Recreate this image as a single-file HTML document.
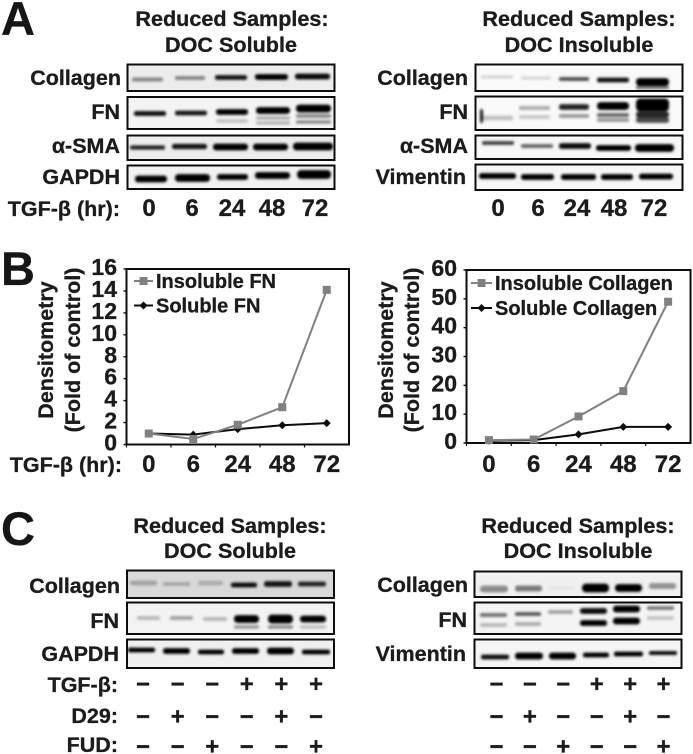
<!DOCTYPE html>
<html lang="en">
<head>
<meta charset="utf-8">
<title>Reduced samples western blots and densitometry</title>
<style>
  html, body { margin: 0; padding: 0; background: #fff; }
  body { width: 693px; height: 754px; overflow: hidden; }
  svg { display: block; }
  text { font-family: "Liberation Sans", "DejaVu Sans", sans-serif; font-weight: bold; fill: #1a1a1a; stroke: #1a1a1a; stroke-width: 0.3px; }
  .panel { font-size: 47px; fill: #141414; }
  .title { font-size: 21.6px; text-anchor: middle; }
  .lab { font-size: 21.5px; text-anchor: end; }
  .num { font-size: 24px; text-anchor: middle; }
  .tick { font-size: 23px; text-anchor: end; }
  .legend { font-size: 20px; }
  .axt { font-size: 21.5px; text-anchor: middle; }
  .sign { font-size: 24px; text-anchor: middle; }
</style>
</head>
<body>
<svg xmlns="http://www.w3.org/2000/svg" width="693" height="754" viewBox="0 0 693 754">
  <defs>
    <filter id="soft" x="-5%" y="-5%" width="110%" height="110%"><feGaussianBlur stdDeviation="0.35"/></filter>
    <filter id="bandBlur" x="-20%" y="-60%" width="140%" height="220%"><feGaussianBlur stdDeviation="1.25"/></filter>
  </defs>
  <g id="root" filter="url(#soft)">

    <text class="panel" x="1" y="35">A</text>
    <text class="panel" x="1" y="285">B</text>
    <text class="panel" x="1" y="545">C</text>

    <text class="title" x="232" y="26">Reduced Samples:</text>
    <text class="title" x="231" y="52">DOC Soluble</text>
    <text class="title" x="579" y="26">Reduced Samples:</text>
    <text class="title" x="579" y="52">DOC Insoluble</text>

    <text class="lab" x="121" y="85">Collagen</text>
    <text class="lab" x="120" y="119">FN</text>
    <text class="lab" x="120" y="153">α-SMA</text>
    <text class="lab" x="120" y="184">GAPDH</text>
    <text class="lab" x="120" y="216">TGF-β (hr):</text>
    <text class="num" x="149" y="216">0</text>
    <text class="num" x="192" y="216">6</text>
    <text class="num" x="232" y="216">24</text>
    <text class="num" x="272" y="216">48</text>
    <text class="num" x="315" y="216">72</text>

    <text class="lab" x="468" y="85">Collagen</text>
    <text class="lab" x="468" y="119">FN</text>
    <text class="lab" x="468" y="153">α-SMA</text>
    <text class="lab" x="466" y="184">Vimentin</text>
    <text class="num" x="498" y="216">0</text>
    <text class="num" x="538" y="216">6</text>
    <text class="num" x="577" y="216">24</text>
    <text class="num" x="614" y="216">48</text>
    <text class="num" x="654" y="216">72</text>

    <text class="axt" transform="translate(53,350) rotate(-90)">Densitometry</text>
    <text class="axt" transform="translate(80,350) rotate(-90)">(Fold of control)</text>
    <text class="lab" x="122" y="472">TGF-β (hr):</text>
    <text class="axt" transform="translate(393,350) rotate(-90)">Densitometry</text>
    <text class="axt" transform="translate(419,350) rotate(-90)">(Fold of control)</text>

    <text class="title" x="230" y="533">Reduced Samples:</text>
    <text class="title" x="230" y="558">DOC Soluble</text>
    <text class="title" x="578" y="533">Reduced Samples:</text>
    <text class="title" x="578" y="558">DOC Insoluble</text>

    <text class="lab" x="120" y="593">Collagen</text>
    <text class="lab" x="119" y="628">FN</text>
    <text class="lab" x="119" y="661">GAPDH</text>
    <text class="lab" x="468" y="592">Collagen</text>
    <text class="lab" x="467" y="627">FN</text>
    <text class="lab" x="466" y="661">Vimentin</text>
    <text class="lab" x="118" y="692">TGF-β:</text>
    <text class="lab" x="118" y="723">D29:</text>
    <text class="lab" x="118" y="752">FUD:</text>

    <g id="blots"></g>
    <g id="signs"></g>
    <g id="chartFn"></g>
    <g id="chartCol"></g>
  </g>
</svg>
<script>
// ---- chart data ----
var timeLabels = ['0', '6', '24', '48', '72'];
var fnTicks = [0, 2, 4, 6, 8, 10, 12, 14, 16];
var insolubleFn = [1, 0.5, 1.8, 3.4, 14.1];
var solubleFn = [1, 0.9, 1.4, 1.75, 1.95];
var collagenTicks = [0, 10, 20, 30, 40, 50, 60];
var insolubleCollagen = [1, 1.2, 9.2, 18, 49];
var solubleCollagen = [0.8, 1, 3, 5.6, 5.6];

// ---- treatment tables ----
var tgfRow = ['-', '-', '-', '+', '+', '+'];
var d29Row = ['-', '+', '-', '-', '+', '-'];
var fudRow = ['-', '-', '+', '-', '-', '+'];

// ---- blot densities: [x0, x1, yCentre, thickness, darkness] ----
var aSolCollagen = [[132,163,79.5,3,.45],[175,205,78,3,.45],[215,247,77.5,4,.92],[255,288,77,5,1],[295,330,76.5,5,.97]];
var aSolFn = [[134,166,113.5,4,.95],[175,207,113,4,.9],[216,248,112,5,1],[256,290,110.5,6,1],[296,331,108.5,7,1],[216,248,121,3,.2],[256,290,118,2,.35],[256,290,123,2,.3],[296,331,116,3,.45],[296,331,122,2.5,.45]];
var aSolSma = [[130,165,147.5,3.5,.85],[172,207,146.5,4.5,.92],[213,248,147,6,1],[253,288,147,6,1],[293,333,146.5,7,1]];
var aSolGapdh = [[135,167,179,6,1],[175,210,178,7,1],[217,248,177,5,1],[255,290,175.5,6,1],[297,331,174.5,8,1]];
var aInsCollagen = [[481,513,77,2,.16],[521,551,78,2,.16],[559,589,79,3,.7],[597,629,80,4,.92],[636,669,82,7,1],[636,669,87.5,3,.5]];
var aInsFn = [[481,513,118,4,.22],[480,483,116,14,.9],[519,550,108,3,.32],[519,550,117,3,.2],[559,589,107,5,.85],[559,589,116,3,.4],[597,629,106,7,1],[597,629,115,3,.6],[597,629,120,3,.4],[636,669,105,12,1],[636,669,114.5,5,.85],[636,669,120,5,.7]];
var aInsSma = [[482,514,143,3,.75],[521,553,146,3,.6],[559,591,146,5,.95],[596,631,148,5,1],[635,674,148,7,1]];
var aInsVimentin = [[479,516,176,5,1],[521,554,177,5,1],[561,596,177,5,1],[601,633,177,5,1],[639,673,176.5,5,1]];
var cSolCollagen = [[130,157,583,4,.25],[163,190,584,3,.25],[198,223,583,4,.2],[231,257,585,4,.95],[264,292,584,5,.9],[298,326,584,4,.85]];
var cSolFn = [[137,160,618,3,.25],[170,193,618,3,.35],[203,227,619,3,.25],[234,259,619,7,1],[268,293,619,8,1],[300,326,619,6,1],[234,259,627,2.5,.4],[268,293,627,2.5,.45],[300,326,627,2,.25]];
var cSolGapdh = [[128,155,650,4,1],[163,190,651,5,1],[198,224,652,4,1],[232,259,651,5,1],[267,294,651,6,1],[302,330,652,4,1]];
var cInsCollagen = [[480,508,589,6,.42],[515,542,588.5,5,.5],[548,575,588,2,.05],[582,609,588,8,1],[615,642,588,7,1],[649,676,586,5,.4]];
var cInsFn = [[480,507,615,3,.55],[480,507,625,3,.25],[515,541,614,3,.65],[515,541,624,3,.3],[548,573,612,3,.35],[580,607,611,5,.95],[580,607,623,5,1],[613,640,609,6,1],[613,640,621,6,1],[647,674,608,3,.5],[647,674,618,3,.2]];
var cInsVimentin = [[481,509,657,4,.95],[515,543,656,6,1],[549,576,656,6,1],[583,609,655,4,1],[614,643,654,4,1],[649,677,653,3,1]];

var NS = 'http://www.w3.org/2000/svg';

function make(tag, parent) {
  var el = document.createElementNS(NS, tag);
  parent.appendChild(el);
  return el;
}

function drawBlot(name, x, y, w, h, bg, bands) {
  var host = document.getElementById('blots');
  var g = make('g', host);
  
  
  var back = make('rect', g);
  
  
  back.setAttribute('x', x);
  back.setAttribute('y', y);
  back.setAttribute('width', w);
  back.setAttribute('height', h);
  back.setAttribute('fill', bg);
  var marks = make('g', g);
  marks.setAttribute('filter', 'url(#bandBlur)');
  bands.forEach(function (b) {
    var r = make('rect', marks);
    
    
    r.setAttribute('x', b[0]);
    r.setAttribute('y', b[2] - b[3] / 2 - 0.4);
    r.setAttribute('width', b[1] - b[0]);
    r.setAttribute('height', b[3] + 0.8);
    r.setAttribute('rx', Math.min(b[3] / 2, 4));
    r.setAttribute('fill', '#000');
    r.setAttribute('opacity', b[4]);
  });
  var frame = make('rect', g);
  
  
  frame.setAttribute('x', x);
  frame.setAttribute('y', y);
  frame.setAttribute('width', w);
  frame.setAttribute('height', h);
  frame.setAttribute('fill', 'none');
  frame.setAttribute('stroke', '#0a0a0a');
  frame.setAttribute('stroke-width', '2');
}

drawBlot('a-soluble-collagen-blot', 127.5, 64.5, 207, 26.5, '#ececec', aSolCollagen);
drawBlot('a-soluble-fn-blot', 127.5, 97, 207, 32, '#f4f4f4', aSolFn);
drawBlot('a-soluble-sma-blot', 127.5, 135.5, 207, 24.5, '#ededed', aSolSma);
drawBlot('a-soluble-gapdh-blot', 127.5, 165.5, 207, 23.5, '#f2f2f2', aSolGapdh);
drawBlot('a-insoluble-collagen-blot', 475.5, 64.5, 207, 26.5, '#f9f9f9', aInsCollagen);
drawBlot('a-insoluble-fn-blot', 475.5, 96.5, 207, 33.5, '#f9f9f9', aInsFn);
drawBlot('a-insoluble-sma-blot', 475.5, 135.5, 207, 23.5, '#f7f7f7', aInsSma);
drawBlot('a-insoluble-vimentin-blot', 475.5, 164.5, 207, 25.5, '#f7f7f7', aInsVimentin);
drawBlot('c-soluble-collagen-blot', 127, 570.5, 207, 27.5, '#d9d9d9', cSolCollagen);
drawBlot('c-soluble-fn-blot', 127, 602.5, 207, 31.5, '#f3f3f3', cSolFn);
drawBlot('c-soluble-gapdh-blot', 127, 639.5, 207, 28.5, '#f0f0f0', cSolGapdh);
drawBlot('c-insoluble-collagen-blot', 474.5, 571.5, 207, 25.5, '#f0f0f0', cInsCollagen);
drawBlot('c-insoluble-fn-blot', 474.5, 602.5, 207, 31.5, '#f4f4f4', cInsFn);
drawBlot('c-insoluble-vimentin-blot', 474.5, 639.5, 207, 28.5, '#f5f5f5', cInsVimentin);

// ---- treatment signs ----
function drawSigns(columnStart, columnStep, rowY, row, rowName) {
  var host = document.getElementById('signs');
  row.forEach(function (s, i) {
    var t = make('text', host);
    
    
    t.setAttribute('class', 'sign');
    t.setAttribute('x', columnStart + i * columnStep);
    t.setAttribute('y', rowY);
    t.textContent = s === '+' ? '+' : '\u2212';
  });
}
[[692, tgfRow, 'tgf'], [724.5, d29Row, 'd29'], [754.5, fudRow, 'fud']].forEach(function (r) {
  drawSigns(143, 34.6, r[0], r[1], 'soluble-' + r[2]);
  drawSigns(496.5, 33.4, r[0], r[1], 'insoluble-' + r[2]);
});

// ---- line charts ----
function drawChart(hostId, box, ticks, categories, seriesA, seriesB, nameA, nameB, legendBox) {
  var host = document.getElementById(hostId);
  var maxY = ticks[ticks.length - 1];
  function yScale(v) { return box.bottom - (v / maxY) * (box.bottom - box.top); }
  function xScale(i) { return box.left + (i + 0.5) * (box.right - box.left) / categories.length; }

  var frame = make('rect', host);
  
  
  frame.setAttribute('x', box.left);
  frame.setAttribute('y', box.top);
  frame.setAttribute('width', box.right - box.left);
  frame.setAttribute('height', box.bottom - box.top);
  frame.setAttribute('fill', 'none');
  frame.setAttribute('stroke', '#111');
  frame.setAttribute('stroke-width', '2');

  ticks.forEach(function (t) {
    var m = make('line', host);
    
    
    m.setAttribute('x1', box.left - 3);
    m.setAttribute('x2', box.left);
    m.setAttribute('y1', yScale(t));
    m.setAttribute('y2', yScale(t));
    m.setAttribute('stroke', '#111');
    m.setAttribute('stroke-width', '1.4');
    var l = make('text', host);
    
    
    l.setAttribute('class', 'tick');
    l.setAttribute('x', box.left - 9.5);
    l.setAttribute('y', yScale(t) + 6);
    l.textContent = t;
  });

  categories.forEach(function (c, i) {
    var m = make('line', host);
    
    
    var tx = box.left + i * (box.right - box.left) / categories.length;
    m.setAttribute('x1', tx);
    m.setAttribute('x2', tx);
    m.setAttribute('y1', box.bottom);
    m.setAttribute('y2', box.bottom + 3);
    m.setAttribute('stroke', '#111');
    m.setAttribute('stroke-width', '1.2');
    var l = make('text', host);
    
    
    l.setAttribute('class', 'num');
    l.setAttribute('x', xScale(i));
    l.setAttribute('y', 472);
    l.textContent = c;
  });

  function series(values, color, isSquare, name) {
    var pts = values.map(function (v, i) { return xScale(i) + ',' + yScale(v); }).join(' ');
    var p = make('polyline', host);
    
    
    p.setAttribute('points', pts);
    p.setAttribute('fill', 'none');
    p.setAttribute('stroke', color);
    p.setAttribute('stroke-width', '2');
    values.forEach(function (v, i) {
      drawMarker(xScale(i), yScale(v), color, isSquare, name + '-point');
    });
  }
  function drawMarker(cx, cy, color, isSquare, name) {
    var m = make(isSquare ? 'rect' : 'polygon', host);
    
    
    m.setAttribute('fill', color);
    if (isSquare) {
      m.setAttribute('x', cx - 4);
      m.setAttribute('y', cy - 4);
      m.setAttribute('width', 8);
      m.setAttribute('height', 8);
    } else {
      m.setAttribute('points', (cx - 4) + ',' + cy + ' ' + cx + ',' + (cy - 4) + ' ' + (cx + 4) + ',' + cy + ' ' + cx + ',' + (cy + 4));
    }
  }
  series(seriesB, '#0a0a0a', false, nameB);
  series(seriesA, '#808080', true, nameA);

  function legendEntry(label, y, color, isSquare, name) {
    var li = make('line', host);
    
    
    li.setAttribute('x1', legendBox.x1);
    li.setAttribute('x2', legendBox.x2);
    li.setAttribute('y1', y);
    li.setAttribute('y2', y);
    li.setAttribute('stroke', color);
    li.setAttribute('stroke-width', '2');
    drawMarker((legendBox.x1 + legendBox.x2) / 2, y, color, isSquare, name + '-legend-marker');
    var t = make('text', host);
    
    
    t.setAttribute('class', 'legend');
    t.setAttribute('x', legendBox.x2 + 3);
    t.setAttribute('y', y + 7);
    t.textContent = label;
  }
  legendEntry(legendBox.labelA, legendBox.yA, '#808080', true, nameA);
  legendEntry(legendBox.labelB, legendBox.yB, '#0a0a0a', false, nameB);
}

drawChart('chartFn', { left: 126.5, right: 349, top: 269, bottom: 444.5 }, fnTicks, timeLabels,
  insolubleFn, solubleFn, 'insoluble-fn', 'soluble-fn',
  { x1: 134, x2: 153, yA: 281, yB: 305.5, labelA: 'Insoluble FN', labelB: 'Soluble FN' });
drawChart('chartCol', { left: 466.5, right: 690.5, top: 270, bottom: 443 }, collagenTicks, timeLabels,
  insolubleCollagen, solubleCollagen, 'insoluble-collagen', 'soluble-collagen',
  { x1: 471, x2: 492, yA: 283, yB: 308, labelA: 'Insoluble Collagen', labelB: 'Soluble Collagen' });
</script>
</body>
</html>
